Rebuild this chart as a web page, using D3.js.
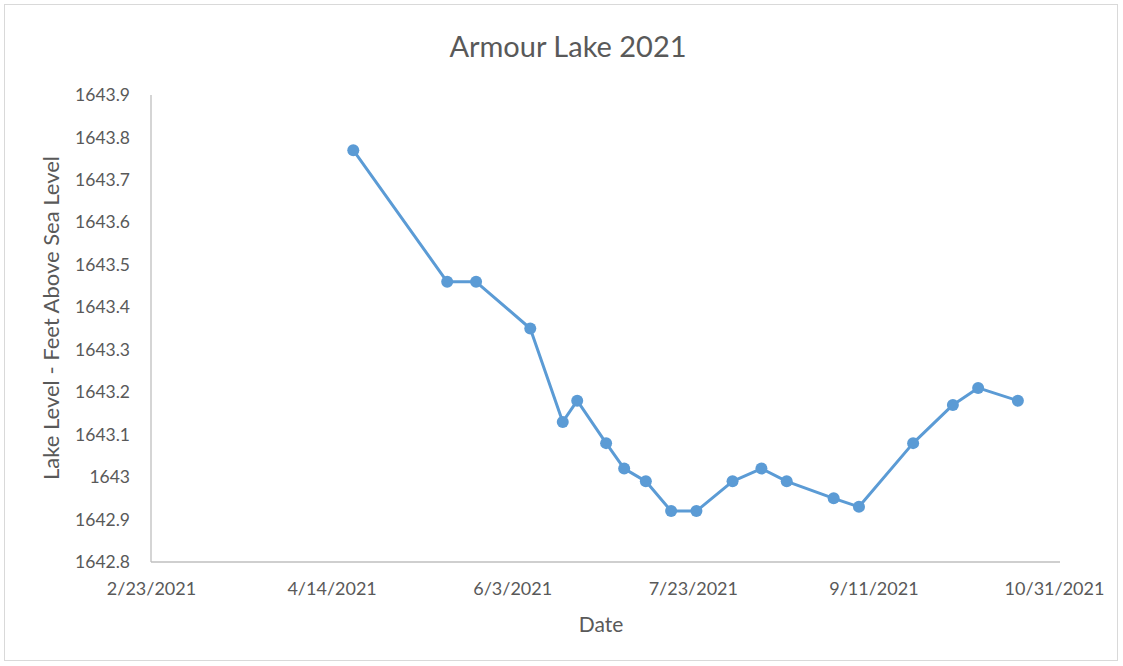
<!DOCTYPE html>
<html><head><meta charset="utf-8">
<script src="https://cdn.jsdelivr.net/npm/d3@7"></script>
<style>body{margin:0;background:#fff}svg{display:block}</style>
</head><body>
<svg id="c" width="1123" height="666"></svg>
<script>
const dates = ["2021-04-20","2021-05-16","2021-05-24","2021-06-08","2021-06-17","2021-06-21","2021-06-29","2021-07-04","2021-07-10","2021-07-17","2021-07-24","2021-08-03","2021-08-11","2021-08-18","2021-08-31","2021-09-07","2021-09-22","2021-10-03","2021-10-10","2021-10-21"];
const levels = [1643.77,1643.46,1643.46,1643.35,1643.13,1643.18,1643.08,1643.02,1642.99,1642.92,1642.92,1642.99,1643.02,1642.99,1642.95,1642.93,1643.08,1643.17,1643.21,1643.18];
const xTickDates = ["2021-02-23","2021-04-14","2021-06-03","2021-07-23","2021-09-11","2021-10-31"];
const xTickLabels = ["2/23/2021","4/14/2021","6/3/2021","7/23/2021","9/11/2021","10/31/2021"];
const yTicks = [1642.8,1642.9,1643,1643.1,1643.2,1643.3,1643.4,1643.5,1643.6,1643.7,1643.8,1643.9];
const yTickLabels = ["1642.8","1642.9","1643","1643.1","1643.2","1643.3","1643.4","1643.5","1643.6","1643.7","1643.8","1643.9"];
const title = "Armour Lake 2021", xTitle = "Date", yTitle = "Lake Level - Feet Above Sea Level";

const parse = d3.utcParse("%Y-%m-%d");
const data = dates.map((d,i)=>({d:parse(d), v:levels[i]}));
const svg = d3.select("#c");
const font = "Lato, 'Open Sans', sans-serif";
const grey = "#595959";

svg.append("rect").attr("x",4.5).attr("y",4.5).attr("width",1113).attr("height",656)
  .attr("fill","#fff").attr("stroke","#d9d9d9");

const x = d3.scaleUtc().domain([parse(xTickDates[0]), parse(xTickDates[5])]).range([151,1054]);
const y = d3.scaleLinear().domain([1642.8,1643.9]).range([562,95]);

const xAxis = d3.axisBottom(x).tickValues(xTickDates.map(parse)).tickFormat((d,i)=>xTickLabels[i]).tickSize(0).tickPadding(20);
const gx = svg.append("g").attr("transform","translate(0,562)").call(xAxis);
gx.select(".domain").attr("stroke","#bfbfbf").attr("stroke-width",1.3).attr("d","M151,0H1060");
gx.selectAll("text").attr("font-family",font).attr("font-size",18).attr("fill",grey);

const yAxis = d3.axisLeft(y).tickValues(yTicks).tickFormat((d,i)=>yTickLabels[i]).tickSize(0).tickPadding(21);
const gy = svg.append("g").attr("transform","translate(151,0)").call(yAxis);
gy.select(".domain").attr("stroke","#bfbfbf").attr("stroke-width",1.3).attr("d","M0,95V562");
gy.selectAll("text").attr("font-family",font).attr("font-size",17.5).attr("fill",grey);

svg.append("path").datum(data)
  .attr("fill","none").attr("stroke","#5b9bd5").attr("stroke-width",3).attr("stroke-linejoin","round")
  .attr("d", d3.line().x(d=>x(d.d)).y(d=>y(d.v)));
svg.append("g").selectAll("circle").data(data).join("circle")
  .attr("cx",d=>x(d.d)).attr("cy",d=>y(d.v)).attr("r",6).attr("fill","#5b9bd5");

svg.append("text").attr("x",568).attr("y",57).attr("text-anchor","middle")
  .attr("font-family",font).attr("font-size",29).attr("fill",grey).text(title);
svg.append("text").attr("x",601).attr("y",632).attr("text-anchor","middle")
  .attr("font-family",font).attr("font-size",21).attr("fill",grey).text(xTitle);
svg.append("text").attr("transform","translate(59,318) rotate(-90)").attr("text-anchor","middle")
  .attr("font-family",font).attr("font-size",22).attr("fill",grey).text(yTitle);
</script>
</body></html>
